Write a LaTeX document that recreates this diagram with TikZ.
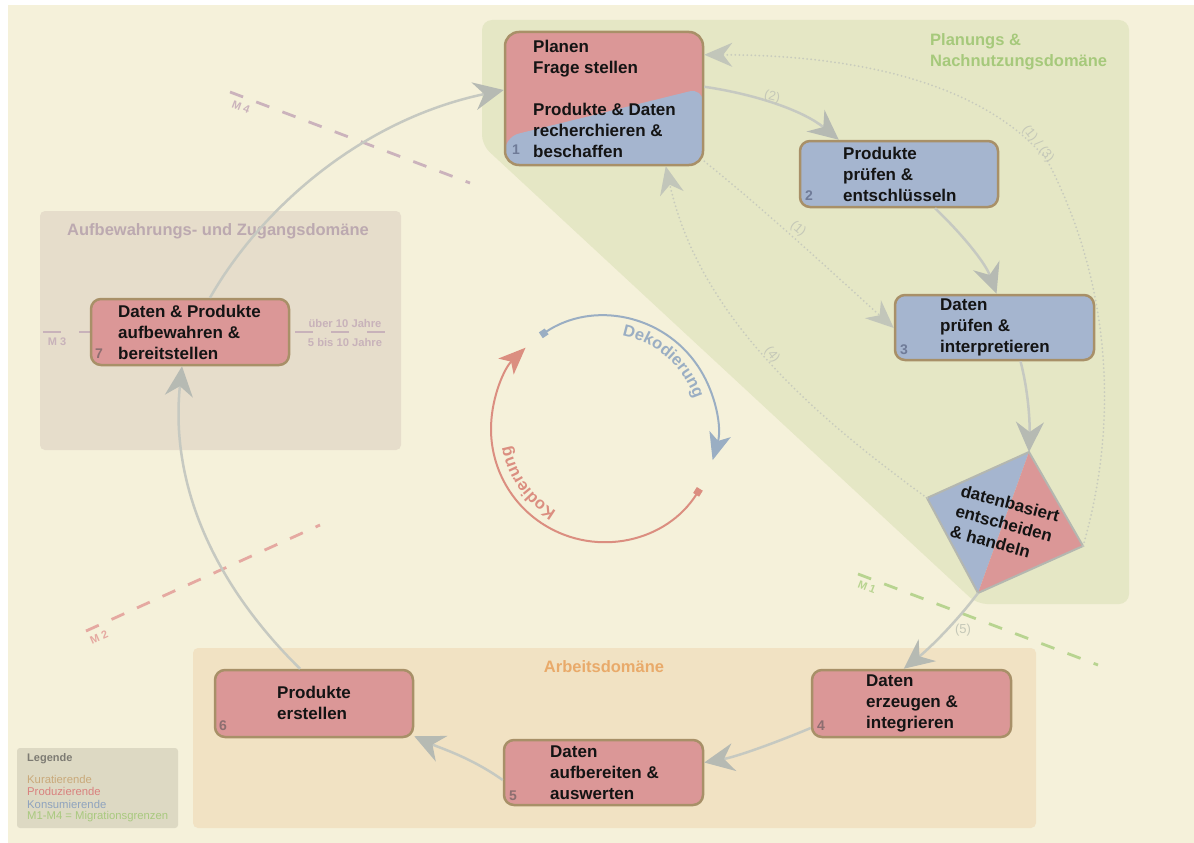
\documentclass[tikz,border=0pt]{standalone}
\usepackage{fontspec}
\setmainfont{Liberation Sans}
\usetikzlibrary{arrows.meta,decorations.text,calc}
\definecolor{bgc}{HTML}{F5F1DA}
\definecolor{greendom}{HTML}{E5E7C5}
\definecolor{tandom}{HTML}{E6DDCB}
\definecolor{arbdom}{HTML}{F1E2C3}
\definecolor{legbg}{HTML}{DDD9C3}
\definecolor{redf}{HTML}{DB9797}
\definecolor{bluef}{HTML}{A5B5CF}
\definecolor{boxb}{HTML}{A89068}
\definecolor{flowc}{HTML}{C6C9C1}
\definecolor{headc}{HTML}{B6BAB3}
\definecolor{dotc}{HTML}{C8CBBD}
\definecolor{dothead}{HTML}{C2C6BA}
\definecolor{lblc}{HTML}{C5C8B8}
\definecolor{diamb}{HTML}{B4B7B0}
\definecolor{plang}{HTML}{A6C97B}
\definecolor{aufbc}{HTML}{BCA9B0}
\definecolor{arbc}{HTML}{E9AA6A}
\definecolor{m4c}{HTML}{CBB3BC}
\definecolor{m3c}{HTML}{C8B2BA}
\definecolor{m2c}{HTML}{E5A9A1}
\definecolor{m1c}{HTML}{B8D490}
\definecolor{numblue}{HTML}{6F7B98}
\definecolor{numred}{HTML}{8D6E70}
\definecolor{dekc}{HTML}{9AAEC3}
\definecolor{kodc}{HTML}{DB8E80}
\definecolor{legc}{HTML}{7D7B73}
\definecolor{kurc}{HTML}{C9A97A}
\definecolor{proc}{HTML}{D9817E}
\definecolor{konc}{HTML}{8FA3BE}
\definecolor{migc}{HTML}{A8C97E}
\begin{document}
\begin{tikzpicture}[x=1pt,y=-1pt,
  box/.style={draw=boxb, line width=2.5pt, rounded corners=10pt, inner sep=0pt, minimum width=198pt},
  boxtxt/.style={anchor=north west, inner sep=0pt, align=left, font=\fontsize{17}{21}\selectfont\bfseries, text=black!92},
  num/.style={font=\fontsize{14}{14}\selectfont\bfseries, inner sep=0pt},
  flow/.style={draw=flowc, line width=2.5pt, -{Stealth[length=30pt,width=28pt,inset=10pt,color=headc]}},
  dotflow/.style={draw=dotc, line width=2pt, line cap=round, dash pattern=on 0pt off 4pt, -{Stealth[length=28pt,width=24pt,inset=9pt,color=dothead]}},
  mline/.style={line width=2.8pt, dash pattern=on 14pt off 14pt},
  mlbl/.style={font=\fontsize{11}{11}\selectfont\bfseries, inner sep=0pt},
  lbl/.style={text=lblc, font=\fontsize{13}{13}\selectfont, inner sep=0pt},
  domtitle/.style={font=\fontsize{16.5}{21}\selectfont\bfseries, inner sep=0pt},
  legtxt/.style={font=\fontsize{11.3}{12.6}\selectfont, inner sep=0pt, anchor=west}]
\useasboundingbox (0,0) rectangle (1194,843);
\fill[white] (0,0) rectangle (1194,843);
\fill[bgc] (8,5) rectangle (1194,843);
% domains
\fill[greendom, rounded corners=10pt] (800,20) -- (1129,20) -- (1129,604) -- (977,604) -- (482,145) -- (482,20) -- cycle;
\fill[tandom, rounded corners=5pt] (40,211) rectangle (401,450);
\fill[arbdom, rounded corners=5pt] (193,648) rectangle (1036,828);
\fill[legbg, rounded corners=3pt] (17,748) rectangle (178,828);
\node[domtitle, text=plang, anchor=north west, align=left] (tplan) at (930,33) {Planungs \&\\Nachnutzungsdomäne};
\node[domtitle, text=aufbc] (taufb) at (218,231) {Aufbewahrungs- und Zugangsdomäne};
\node[domtitle, text=arbc] (tarb) at (604,667) {Arbeitsdomäne};
% legend
\node[legtxt, font=\fontsize{11}{11}\selectfont\bfseries, text=legc] (lg0) at (27,759) {Legende};
\node[legtxt, text=kurc] (lg1) at (27,779) {Kuratierende};
\node[legtxt, text=proc] (lg2) at (27,791.5) {Produzierende};
\node[legtxt, text=konc] (lg3) at (27,804) {Konsumierende};
\node[legtxt, text=migc] (lg4) at (27,816.5) {M1-M4 = Migrationsgrenzen};
% migration lines
\draw[mline, draw=m4c] (230,92) -- (470,183);
\node[mlbl, text=m4c, rotate=-21] (m4) at (241,107) {M 4};
\draw[mline, draw=m2c] (86,631) -- (320,525);
\node[mlbl, text=m2c, rotate=24] (m2) at (99,637) {M 2};
\draw[mline, draw=m1c] (858,574) -- (1098,665);
\node[mlbl, text=m1c, rotate=-21] (m1) at (867,587) {M 1};
\draw[line width=2.8pt, dash pattern=on 18pt off 18pt, draw=m3c] (43,332) -- (385,332);
\node[mlbl, text=m3c] (m3) at (57,342) {M 3};
\node[mlbl, font=\fontsize{11.2}{11.2}\selectfont\bfseries, text=m3c] (j1) at (345,323) {über 10 Jahre};
\node[mlbl, font=\fontsize{11.2}{11.2}\selectfont\bfseries, text=m3c] (j2) at (345,342) {5 bis 10 Jahre};
% boxes
\node[box, rounded corners=14pt, fill=redf, minimum height=133pt,
  path picture={\fill[bluef] ([yshift=28pt]path picture bounding box.south west) -- ([yshift=-56pt]path picture bounding box.north east) -- (path picture bounding box.south east) -- (path picture bounding box.south west) -- cycle;}] (b1) at (604,98.5) {};
\node[box, fill=bluef, minimum height=66pt] (b2) at (899,174) {};
\node[box, fill=bluef, minimum height=65pt, minimum width=199pt] (b3) at (994.5,327.5) {};
\node[box, fill=redf, minimum height=67pt, minimum width=199pt] (b4) at (911.5,703.5) {};
\node[box, fill=redf, minimum height=65pt, minimum width=199pt] (b5) at (603.5,772.5) {};
\node[box, fill=redf, minimum height=67pt] (b6) at (314,703.5) {};
\node[box, fill=redf, minimum height=66pt] (b7) at (190,332) {};
% diamond
\coordinate (dT) at (1029,452);
\coordinate (dL) at (927,498);
\coordinate (dB) at (978,593);
\coordinate (dR) at (1083,546);
\fill[bluef] (dT) -- (dL) -- (dB) -- cycle;
\fill[redf] (dT) -- (dR) -- (dB) -- cycle;
\draw[draw=diamb, line width=2pt] (dT) -- (dR) -- (dB) -- (dL) -- cycle;
% flow arrows
\draw[flow] ([yshift=-56pt]b1.north east) .. controls (760,95) and (805,112) .. ([xshift=40pt]b2.north west);
\draw[flow] ([xshift=36pt]b2.south) .. controls (960,232) and (985,262) .. ([xshift=2pt]b3.north);
\draw[flow] ([xshift=26pt]b3.south) .. controls (1028,390) and (1030,420) .. (dT);
\draw[flow] (dB) .. controls (958,620) and (930,648) .. ([xshift=93pt]b4.north west);
\draw[flow] ([yshift=-24.5pt]b4.west) .. controls (770,745) and (735,757) .. ([yshift=10pt]b5.east);
\draw[flow] ([yshift=-7.5pt]b5.west) .. controls (470,757) and (440,748) .. ([yshift=2pt]b6.south east);
\draw[flow] ([xshift=-14pt]b6.north) .. controls (210,580) and (170,480) .. ([xshift=-8pt]b7.south);
\draw[flow] ([xshift=20pt]b7.north) .. controls (260,210) and (360,120) .. ([yshift=8.5pt]b1.west);
% dotted arrows
\coordinate (via13) at (1047,160);
\draw[dotflow] (dR) .. controls (1120,420) and (1110,280) .. (via13) .. controls (980,80) and (850,55) .. ([yshift=-24pt]b1.north east);
\draw[dotflow] ([yshift=5pt]b1.south east) .. controls (765,210) and (835,275) .. ([yshift=-0.5pt]b3.west);
\draw[dotflow] (dL) .. controls (820,420) and (700,320) .. ([xshift=162pt]b1.south west);
% connector labels
\node[lbl, rotate=-12] (l2) at (772,97) {(2)};
\node[lbl, rotate=-40] (l1) at (798,229) {(1)};
\node[lbl, rotate=-52] (l4) at (772,355) {(4)};
\node[lbl, rotate=-52] (l13) at (1038,144) {(1) / (3)};
\node[lbl] (l5) at (963,630) {(5)};
% box texts
\node[boxtxt] (t1) at (533,40) {Planen\\Frage stellen\\[21pt]Produkte \& Daten\\recherchieren \&\\beschaffen};
\node[boxtxt] (t2) at (843,147) {Produkte\\prüfen \&\\entschlüsseln};
\node[boxtxt] (t3) at (940,299) {Daten\\prüfen \&\\interpretieren};
\node[boxtxt] (t4) at (866,675) {Daten\\erzeugen \&\\integrieren};
\node[boxtxt] (t5) at (550,746) {Daten\\aufbereiten \&\\auswerten};
\node[boxtxt] (t6) at (277,686) {Produkte\\erstellen};
\node[boxtxt] (t7) at (118,305) {Daten \& Produkte\\aufbewahren \&\\bereitstellen};
\node[boxtxt, rotate=-15] (td) at (963,484) {datenbasiert\\entscheiden\\\& handeln};
% numbers
\node[num, text=numblue] (n1) at (516,150) {1};
\node[num, text=numblue] (n2) at (809,196) {2};
\node[num, text=numblue] (n3) at (904,350) {3};
\node[num, text=numred] (n4) at (821,726) {4};
\node[num, text=numred] (n5) at (513,796) {5};
\node[num, text=numred] (n6) at (223,726) {6};
\node[num, text=numred] (n7) at (99,354) {7};
% coding circle
\begin{scope}[shift={(604,429)}, y=1pt]
  \draw[draw=dekc, line width=2pt, {Square[length=7pt,width=7pt]}-{Stealth[length=27pt,width=22pt,inset=7pt]}] (124:113) arc[start angle=124, end angle=-16, radius=113];
  \draw[draw=kodc, line width=2pt, {Square[length=7pt,width=7pt]}-{Stealth[length=27pt,width=22pt,inset=7pt]}] (-32:113) arc[start angle=-32, end angle=-226, radius=113];
  \path[decorate, decoration={text along path, text={|\fontsize{16.5}{16.5}\selectfont\bfseries|Dekodierung}, text color=dekc, text align=left}] (79:95) arc[start angle=79, end angle=0, radius=95];
  \path[decorate, decoration={text along path, text={|\fontsize{16.5}{16.5}\selectfont\bfseries|Kodierung}, text color=kodc, text align=left}] (-120:95) arc[start angle=-120, end angle=-190, radius=95];
\end{scope}
\end{tikzpicture}
\end{document}
